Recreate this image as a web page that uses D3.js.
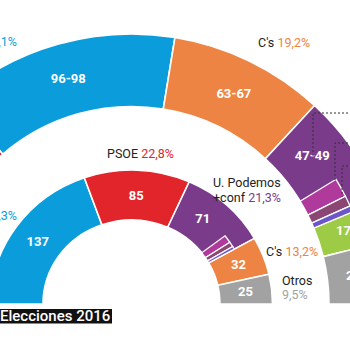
<!DOCTYPE html>
<html><head><meta charset="utf-8">
<script src="https://cdn.jsdelivr.net/npm/d3@7"></script>
<style>body{margin:0;background:#fff}svg{display:block;font-family:Roboto,"Noto Sans",sans-serif}</style>
</head><body><svg id="c" width="350" height="350"></svg>
<script>
// ---- data ----
const outerParties = ["PSOE", "PP", "C's", "Podemos", "Verde", "Otros"];
const outerSeats   = [96, 97, 65, 48, 17, 27];
const outerLabels  = ["", "96-98", "63-67", "47-49", "17-18", "26-28"];
const outerSubSeats = [9, 5, 3];      // confluencias dentro de Podemos
const innerParties = ["PP", "PSOE", "U. Podemos", "C's", "Otros"];
const innerSeats   = [137, 85, 71, 32, 25];
const innerLabels  = ["137", "85", "71", "32", "25"];
const innerSubSeats = [8, 5, 3];
const pctLabels = [
  {name: "", pct: ",1%", party: "PP"},
  {name: "C's ", pct: "19,2%", party: "C's"},
  {name: "", pct: ",3%", party: "PP"},
  {name: "PSOE ", pct: "22,8%", party: "PSOE"},
  {name: "U. Podemos", name2: "+conf ", pct: "21,3%", party: "Podemos"},
  {name: "C's ", pct: "13,2%", party: "C's"},
  {name: "Otros", pct: "9,5%", party: "Otros"}
];
const totalSeats = 350;

// ---- style ----
const color = {"PSOE": "#e2242b", "PP": "#0b9ddb", "C's": "#ee8443", "Podemos": "#7b3b8b",
  "U. Podemos": "#7b3b8b", "Verde": "#9dcb45", "Otros": "#a2a2a2"};
const subColors = ["#b03a9c", "#8b4674", "#6b55c9"];
const textDark = "#222";

const svg = d3.select("#c");
const cx = 131.5, cy = 304;
const angle = d3.scaleLinear().domain([0, totalSeats]).range([-Math.PI / 2, Math.PI / 2]);
const pie = d3.pie().sort(null).startAngle(-Math.PI / 2).endAngle(Math.PI / 2).value(d => d);

function drawRing(seats, parties, labels, subSeats, subParty, r0, r1, sy, subFrac) {
  const g = svg.append("g").attr("transform", `translate(${cx},${cy}) scale(1,${sy})`);
  const arc = d3.arc().innerRadius(r0).outerRadius(r1);
  const arcs = pie(seats);
  g.selectAll("path.seg").data(arcs).join("path").attr("class", "seg")
    .attr("d", arc).attr("fill", (d, i) => color[parties[i]])
    .attr("stroke", "#fff").attr("stroke-width", 1.6);
  const pi = parties.indexOf(subParty);
  let cum = d3.sum(seats.slice(0, pi + 1)) - d3.sum(subSeats);
  const subArc = d3.arc().innerRadius(r0).outerRadius(r0 + (r1 - r0) * subFrac);
  const subs = subSeats.map((s, i) => { const a = {startAngle: angle(cum), endAngle: angle(cum + s), i}; cum += s; return a; });
  g.selectAll("path.sub").data(subs).join("path").attr("class", "sub")
    .attr("d", subArc).attr("fill", d => subColors[d.i]).attr("stroke", "#fff").attr("stroke-width", 1.3);
  const rm = (r0 + r1) / 2;
  arcs.forEach((d, i) => {
    if (!labels[i]) return;
    let a0 = d.startAngle, a1 = d.endAngle;
    if (i === pi) a1 = angle(d3.sum(seats.slice(0, pi + 1)) - d3.sum(subSeats));
    const a = (a0 + a1) / 2;
    svg.append("text").attr("x", cx + rm * Math.sin(a)).attr("y", cy - rm * Math.cos(a) * sy)
      .attr("text-anchor", "middle").attr("dominant-baseline", "central")
      .attr("fill", "#fff").attr("font-weight", "bold").attr("font-size", 13).text(labels[i]);
  });
}

drawRing(outerSeats, outerParties, outerLabels, outerSubSeats, "Podemos", 197.5, 270, 1, 0.58);
drawRing(innerSeats, innerParties, innerLabels, innerSubSeats, "U. Podemos", 88.5, 141, 0.95, 0.56);

// dotted range marks inside the Podemos block
const steps = [[313, 113, 158], [335, 143, 180], [342, 166, 197]];
steps.forEach(s => {
  svg.append("path").attr("d", `M360,${s[1]}H${s[0]}V${s[2]}`)
    .attr("fill", "none").attr("stroke", "#333").attr("stroke-width", 1).attr("stroke-dasharray", "2,2");
});

function pct(p, x, y, anchor) {
  const t = svg.append("text").attr("x", x).attr("y", y).attr("font-size", 12.5).attr("text-anchor", anchor || "start");
  t.append("tspan").attr("fill", textDark).text(p.name);
  t.append("tspan").attr("fill", color[p.party]).text(p.pct);
  return t;
}
pct(pctLabels[0], 17, 46, "end");
pct(pctLabels[1], 258, 47);
pct(pctLabels[2], 17, 220, "end");
pct(pctLabels[3], 107, 158);
svg.append("text").attr("x", 213).attr("y", 187).attr("font-size", 12.5).attr("fill", textDark).text(pctLabels[4].name);
pct({name: pctLabels[4].name2, pct: pctLabels[4].pct, party: "Podemos"}, 213, 202);
pct(pctLabels[5], 266, 256);
svg.append("text").attr("x", 282).attr("y", 285).attr("font-size", 12.5).attr("fill", textDark).text(pctLabels[6].name);
svg.append("text").attr("x", 282).attr("y", 299).attr("font-size", 12.5).attr("fill", color["Otros"]).text(pctLabels[6].pct);

svg.append("rect").attr("x", -5).attr("y", 309).attr("width", 117).attr("height", 14.5).attr("fill", "#111");
svg.append("text").attr("x", 0).attr("y", 321).attr("font-size", 15).attr("font-weight", 500).attr("fill", "#fff").text("Elecciones 2016");
</script></body></html>
